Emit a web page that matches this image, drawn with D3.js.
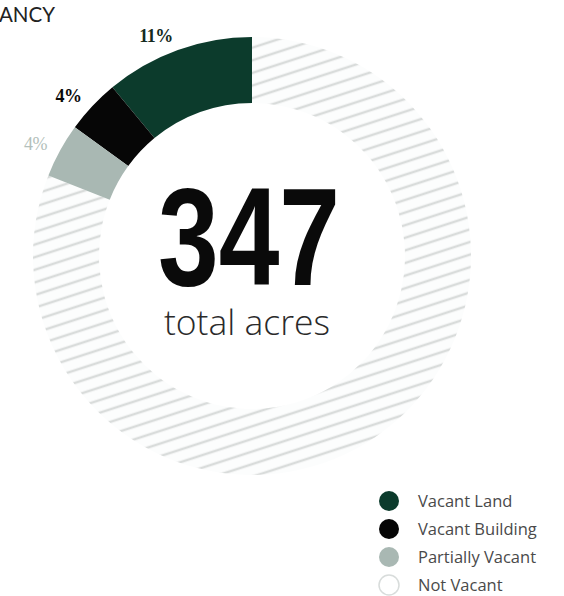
<!DOCTYPE html>
<html>
<head>
<meta charset="utf-8">
<script src="https://cdn.jsdelivr.net/npm/d3@7"></script>
<style>
  html, body { margin: 0; padding: 0; background: #fff; }
  svg { display: block; }
</style>
</head>
<body>
<script>
// Land use breakdown (share of total acreage, %)
const categories = ["Vacant Land", "Vacant Building", "Partially Vacant", "Not Vacant"];
const shares = [11, 4, 4, 81];
const shareLabels = ["11%", "4%", "4%", null];
const colors = ["#0c3b2c", "#060606", "#a9b8b3", "url(#hatch)"];
const labelColors = ["#142a20", "#0a0a0a", "#b3bfbb", null];
const legendSwatch = ["#0c3b2c", "#060606", "#a9b8b3", "#ffffff"];
const totalAcres = 347;
const title = "VACANCY";

const W = 564, H = 596;
const cx = 252, cy = 256;
const outerR = 219, innerR = 153;

const svg = d3.select("body").append("svg")
  .attr("width", W).attr("height", H);

// diagonal hatch used for the non-vacant share
const defs = svg.append("defs");
const pat = defs.append("pattern")
  .attr("id", "hatch")
  .attr("patternUnits", "userSpaceOnUse")
  .attr("width", 40).attr("height", 12)
  .attr("patternTransform", "rotate(-18)");
pat.append("rect").attr("width", 40).attr("height", 12).attr("fill", "#fcfdfd");
pat.append("line")
  .attr("x1", 0).attr("x2", 40).attr("y1", 6).attr("y2", 6)
  .attr("stroke", "#d9dcdb").attr("stroke-width", 2.5);

// title (runs off the left edge)
svg.append("text")
  .attr("x", 55).attr("y", 22)
  .attr("text-anchor", "end")
  .attr("font-family", "Lato, 'Open Sans', sans-serif")
  .attr("font-size", 20.5)
  .attr("fill", "#222")
  .text(title);

// donut laid out counterclockwise from 12 o'clock
const pie = d3.pie().sort(null).startAngle(0).endAngle(-2 * Math.PI);
const arcs = pie(shares);
const arc = d3.arc().innerRadius(innerR).outerRadius(outerR);

const g = svg.append("g").attr("transform", `translate(${cx},${cy})`);

// draw the hatched remainder first so the solid segments sit on top
const order = [3, 0, 1, 2];
g.selectAll("path.seg")
  .data(order.map(i => ({ a: arcs[i], i })))
  .join("path")
  .attr("class", "seg")
  .attr("d", d => arc(d.a))
  .attr("fill", d => colors[d.i]);

// percentage labels, right-aligned at the segment's mid angle
const labelR = 234;
g.selectAll("text.pct")
  .data(arcs.map((a, i) => ({ a, i })).filter(d => shareLabels[d.i]))
  .join("text")
  .attr("class", "pct")
  .attr("x", d => labelR * Math.sin((d.a.startAngle + d.a.endAngle) / 2))
  .attr("y", d => -labelR * Math.cos((d.a.startAngle + d.a.endAngle) / 2))
  .attr("dy", "0.35em")
  .attr("text-anchor", "end")
  .attr("font-family", "'Liberation Serif', 'DejaVu Serif', serif")
  .attr("font-weight", d => d.i === 2 ? "normal" : "bold")
  .attr("font-size", 18)
  .attr("letter-spacing", -0.5)
  .attr("fill", d => labelColors[d.i])
  .text(d => shareLabels[d.i]);

// centre figure
svg.append("text")
  .attr("x", 249).attr("y", 285)
  .attr("text-anchor", "middle")
  .attr("font-family", "'Liberation Sans Narrow', 'Liberation Sans', Arial, sans-serif")
  .attr("font-weight", "bold")
  .attr("font-size", 140)
  .attr("textLength", 182)
  .attr("lengthAdjust", "spacingAndGlyphs")
  .attr("fill", "#0a0a0a")
  .text(totalAcres);

svg.append("text")
  .attr("x", 247).attr("y", 335)
  .attr("text-anchor", "middle")
  .attr("font-family", "'Open Sans', 'Noto Sans', sans-serif")
  .attr("font-weight", 300)
  .attr("font-size", 35.5)
  .attr("fill", "#2a2a2a")
  .text("total acres");

// legend
const legend = svg.append("g").attr("transform", "translate(389,501)");
const rowH = 28;
const rows = legend.selectAll("g.row")
  .data(categories)
  .join("g")
  .attr("class", "row")
  .attr("transform", (d, i) => `translate(0,${i * rowH})`);
rows.append("circle")
  .attr("r", 10)
  .attr("fill", (d, i) => legendSwatch[i])
  .attr("stroke", (d, i) => i === 3 ? "#d8dcdb" : "none")
  .attr("stroke-width", 1.5);
rows.append("text")
  .attr("x", 29)
  .attr("dy", "0.36em")
  .attr("font-family", "'Open Sans', 'Noto Sans', sans-serif")
  .attr("font-size", 16.5)
  .attr("fill", "#4a4a4a")
  .text(d => d);
</script>
</body>
</html>
